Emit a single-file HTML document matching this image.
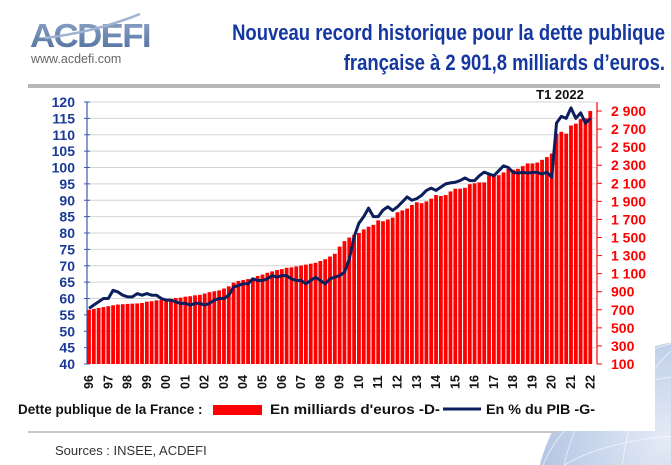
<!DOCTYPE html>
<html><head><meta charset="utf-8"><style>
body{margin:0;width:671px;height:465px;overflow:hidden;background:#fff;font-family:"Liberation Sans",sans-serif;position:relative}
.abs{position:absolute}
</style></head><body>
<svg class="abs" style="left:0;top:0;overflow:hidden" width="671" height="465">
<defs>
<radialGradient id="glb" cx="0.4" cy="0.3" r="0.8"><stop offset="0" stop-color="#e4ebf6"/><stop offset="0.6" stop-color="#a9bde0"/><stop offset="1" stop-color="#7f98c8"/></radialGradient>
<linearGradient id="logo" x1="0" y1="0" x2="0" y2="1"><stop offset="0" stop-color="#8fa6c8"/><stop offset="1" stop-color="#4d6d9e"/></linearGradient>
</defs>
<circle cx="700" cy="505" r="165" fill="url(#glb)"/>
<g stroke="#fff" stroke-width="0.8" fill="none" opacity="0.7">
<ellipse cx="700" cy="505" rx="80" ry="165"/><ellipse cx="700" cy="505" rx="140" ry="165"/><ellipse cx="700" cy="505" rx="165" ry="70"/><ellipse cx="700" cy="505" rx="165" ry="130"/>
</g>
<rect x="0" y="0" width="655" height="431" fill="#fff"/>
<rect x="28" y="84" width="632" height="4" fill="#b8b8b8"/>
<rect x="28" y="431" width="530" height="2" fill="#c8c8c8"/>
<text x="30" y="47" font-size="33" font-weight="bold" fill="url(#logo)" letter-spacing="-1.5" textLength="120" lengthAdjust="spacingAndGlyphs">ACDEFI</text>
<path d="M45 38 Q95 32 140 14" stroke="#9fb3d2" stroke-width="2.5" fill="none"/>
<text x="31" y="63" font-size="12.5" fill="#666">www.acdefi.com</text>
<g font-weight="bold" font-size="22" fill="#1537a0" text-anchor="end">
<text x="665" y="40" transform="translate(665,0) scale(0.84,1) translate(-665,0)">Nouveau record historique pour la dette publique</text>
<text x="665" y="70" transform="translate(665,0) scale(0.84,1) translate(-665,0)">française à 2 901,8 milliards d’euros.</text>
</g>
<g id="plot"></g>
<text x="18" y="414" font-size="13.5" font-weight="bold" fill="#111">Dette publique de la France :</text>
<rect x="213" y="405" width="49" height="10" fill="#ff0000"/>
<text x="270" y="414" font-size="14" font-weight="bold" fill="#111" textLength="170" lengthAdjust="spacingAndGlyphs">En milliards d'euros -D-</text>
<line x1="443" y1="409" x2="481" y2="409" stroke="#0d1e5c" stroke-width="3"/>
<text x="486" y="414" font-size="14" font-weight="bold" fill="#111" textLength="109" lengthAdjust="spacingAndGlyphs">En % du PIB -G-</text>
<text x="55" y="455" font-size="13" fill="#333">Sources : INSEE, ACDEFI</text>
</svg>
<script>
const years=["96","97","98","99","00","01","02","03","04","05","06","07","08","09","10","11","12","13","14","15","16","17","18","19","20","21","22"];
const leftTicks=[40,45,50,55,60,65,70,75,80,85,90,95,100,105,110,115,120];
const rightTicks=[100,300,500,700,900,1100,1300,1500,1700,1900,2100,2300,2500,2700,2900];
const debt=[700,710,720,730, 740,750,758,762, 765,768,770,775, 790,795,805,810, 815,820,830,835, 845,850,860,865, 880,895,905,915, 935,960,1000,1020, 1030,1040,1055,1075, 1090,1110,1125,1140, 1150,1165,1170,1180, 1190,1200,1210,1220, 1240,1260,1290,1320, 1400,1460,1500,1530, 1550,1590,1620,1640, 1690,1680,1700,1720, 1780,1800,1820,1860, 1890,1880,1900,1930, 1970,1960,1970,2010, 2040,2040,2050,2090, 2100,2110,2110,2190, 2200,2190,2220,2260, 2250,2260,2290,2320, 2320,2330,2360,2390, 2430,2650,2670,2650, 2740,2760,2810,2820, 2900];
const pct=[57,58,59,60, 60,62.5,62,61, 60.5,60.5,61.5,61, 61.5,61,61,60, 59.5,59.5,59,58.5, 58.5,58,58.5,58.5, 58,58.5,59.5,60, 60,61,63.5,64, 64.5,64.5,66,65.5, 65.5,66,67,66.5, 67,67,66,65.5, 65.5,64.5,65.5,66.5, 65.5,64.5,66,66.5, 67,68,72,78.8, 83,85,87.6,85, 85,87,88,86.9, 88,89.5,91,90, 90.5,91.5,93,93.7, 93,94,95,95.3, 95.5,96,96.8,96, 96,97.5,98.6,98, 97.5,99,100.5,100, 98.5,98.3,98.5,98.3, 98.5,98.5,98,98.6, 97,113.6,115.6,115, 118.2,115,116.7,113.5, 115];
const NS="http://www.w3.org/2000/svg";
const g=document.getElementById('plot');
const X0=89,DX=4.82,YT=102,YB=364;
const yL=v=>YB-(v-40)/80*(YB-YT);
const yR=v=>YB-(v-100)/2900*(YB-YT);
const xQ=i=>X0+i*DX;
function mk(t,a){const e=document.createElementNS(NS,t);for(const k in a)e.setAttribute(k,a[k]);g.appendChild(e);return e;}
leftTicks.forEach(v=>{
  if(v>40){const l=mk('line',{x1:87,x2:596,y1:yL(v),y2:yL(v),stroke:'#d4d4d4','stroke-width':1});
  
  }
  const tk=mk('line',{x1:84,x2:90,y1:yL(v),y2:yL(v),stroke:'#3a5bb8'});
  
  
  const t=mk('text',{x:75,y:yL(v)+5,'font-size':14,'font-weight':'bold',fill:'#1a3a9a','text-anchor':'end'});
  t.textContent=v;
  
  
});
const la=mk('line',{x1:87,x2:87,y1:YT,y2:YB,stroke:'#3a5bb8','stroke-width':1.2});


debt.forEach((v,i)=>{
  const b=mk('rect',{x:xQ(i)-1.9,y:yR(v),width:3.8,height:YB-yR(v),fill:'#ff0000'});
  
  
});
const ra=mk('line',{x1:597,x2:597,y1:YT,y2:YB,stroke:'#ff0000','stroke-width':1.2});


rightTicks.forEach(v=>{
  const tk=mk('line',{x1:597,x2:602,y1:yR(v),y2:yR(v),stroke:'#ff0000'});
  
  
  const t=mk('text',{x:611,y:yR(v)+5,'font-size':14,'font-weight':'bold',fill:'#ff0000'});
  t.textContent=v>=1000?String(v).replace(/(\d)(\d{3})$/,'$1 $2'):v;
  
  
});
const ln=mk('polyline',{points:pct.map((v,i)=>xQ(i)+','+yL(v)).join(' '),fill:'none',stroke:'#0d1e5c','stroke-width':3,'stroke-linejoin':'round'});


years.forEach((y,k)=>{
  const x=xQ(k*4);
  const t=mk('text',{x:0,y:0,'font-size':12.5,'font-weight':'bold',fill:'#111','text-anchor':'middle',transform:`translate(${x+4},382) rotate(-90)`});
  t.textContent=y;
  
  
});
const ann=mk('text',{x:560,y:99,'font-size':13,'font-weight':'bold',fill:'#111','text-anchor':'middle'});
ann.textContent='T1 2022';


</script>
</body></html>
